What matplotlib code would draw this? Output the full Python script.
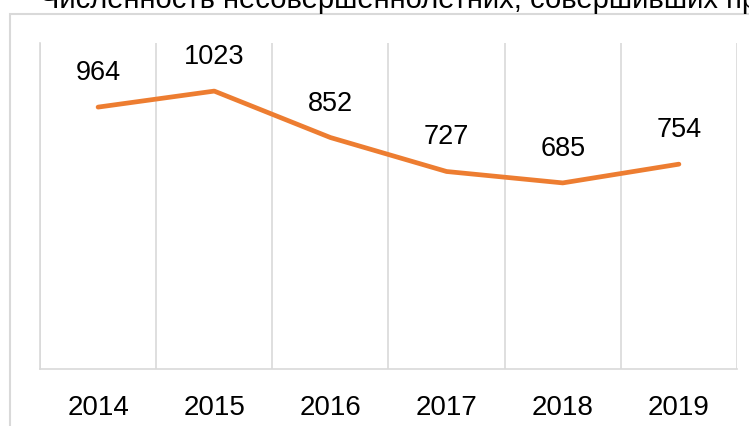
import matplotlib.pyplot as plt
from matplotlib.patches import Rectangle

years = ['2014', '2015', '2016', '2017', '2018', '2019']
counts = [964, 1023, 852, 727, 685, 754]
title = 'Численность несовершеннолетних, совершивших преступления'

plt.rcParams['font.family'] = ['Liberation Sans', 'DejaVu Sans']

W, H = 749, 426
fig = plt.figure(figsize=(W / 100, H / 100), dpi=100)

# outer chart frame (cut off at right/bottom like the source)
fig.patches.append(Rectangle((10 / W, -20 / H), 760 / W, (H + 20 - 14) / H,
                             transform=fig.transFigure, fill=False,
                             edgecolor='#d9d9d9', linewidth=1.5))
fig.text(40 / W, (H - 8) / H, title, fontsize=21, va='baseline', ha='left')

ax = fig.add_axes([40 / W, (H - 369) / H, (737 - 40) / W, (369 - 43) / H])
x = range(len(years))
ax.plot(x, counts, color='#ed7d31', linewidth=3.4, solid_capstyle='round')
for xi, v in zip(x, counts):
    ax.annotate(str(v), (xi, v), xytext=(0, 34), textcoords='offset pixels',
                ha='center', va='center', fontsize=19.5)

ax.set_xlim(-0.5, len(years) - 0.5)
ax.set_ylim(0, 1200)
ax.set_xticks(list(x))
ax.set_xticklabels(years, fontsize=20)
ax.set_xticks([i - 0.5 for i in range(len(years) + 1)], minor=True)
ax.grid(axis='x', which='minor', color='#d9d9d9', linewidth=1.2)
ax.tick_params(axis='x', which='both', length=0, pad=19)
ax.set_yticks([])
for s in ['top', 'right']:
    ax.spines[s].set_visible(False)
ax.spines['left'].set_color('#d9d9d9')
ax.spines['bottom'].set_color('#d9d9d9')
ax.spines['left'].set_linewidth(1.2)
ax.spines['bottom'].set_linewidth(1.2)

fig.savefig('out.png', dpi=100)
